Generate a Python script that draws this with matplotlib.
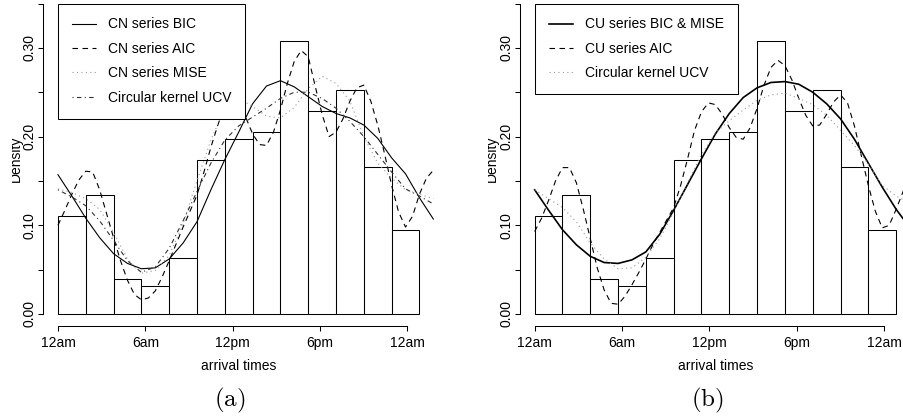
import numpy as np
import matplotlib
matplotlib.use('Agg')
import matplotlib.pyplot as plt
from matplotlib.transforms import Bbox, TransformedBbox

plt.rcParams['font.family'] = ['Liberation Sans', 'DejaVu Sans']
plt.rcParams['mathtext.fontset'] = 'cm'

#%% data (x in radians, 0..2pi = one day)
bin_left = np.arange(0.0, 6.01, 0.5)
hist_density = [0.111, 0.1345, 0.0395, 0.031, 0.063, 0.1736, 0.1973, 0.2052,
                0.3078, 0.2289, 0.2525, 0.1661, 0.095]

x_coarse = np.arange(0.0, 6.76, 0.25)
x_fine = np.arange(0.0, 6.76, 0.125)

# panel (a)
cn_bic = [0.157, 0.133, 0.108, 0.086, 0.068, 0.057, 0.051, 0.052, 0.062, 0.080,
          0.104, 0.140, 0.174, 0.205, 0.237, 0.257, 0.263, 0.256, 0.245, 0.234,
          0.226, 0.221, 0.213, 0.198, 0.176, 0.158, 0.131, 0.107]
cn_aic = [0.100, 0.117, 0.135, 0.151, 0.161, 0.160, 0.140, 0.113, 0.086, 0.060,
          0.038, 0.022, 0.016, 0.018, 0.026, 0.042, 0.060, 0.079, 0.098, 0.116,
          0.134, 0.160, 0.188, 0.213, 0.235, 0.245, 0.240, 0.222, 0.203, 0.191,
          0.190, 0.205, 0.230, 0.260, 0.285, 0.297, 0.290, 0.257, 0.225, 0.200,
          0.205, 0.220, 0.240, 0.255, 0.258, 0.240, 0.213, 0.180, 0.145, 0.115,
          0.098, 0.110, 0.135, 0.153, 0.162]
cn_mise = [0.141, 0.137, 0.130, 0.118, 0.092, 0.062, 0.046, 0.049, 0.066, 0.102,
           0.150, 0.196, 0.232, 0.243, 0.234, 0.223, 0.221, 0.233, 0.254, 0.268,
           0.260, 0.240, 0.200, 0.170, 0.153, 0.140, 0.135, 0.130]
ucv_a = [0.140, 0.132, 0.122, 0.105, 0.083, 0.060, 0.047, 0.053, 0.074, 0.105,
         0.138, 0.170, 0.196, 0.212, 0.222, 0.232, 0.243, 0.250, 0.250, 0.243,
         0.232, 0.217, 0.200, 0.180, 0.160, 0.141, 0.133, 0.124]

# panel (b)
cu_bic = [0.140, 0.117, 0.095, 0.078, 0.065, 0.058, 0.057, 0.061, 0.070, 0.090,
          0.117, 0.146, 0.175, 0.203, 0.226, 0.244, 0.255, 0.261, 0.262, 0.259,
          0.250, 0.237, 0.220, 0.197, 0.170, 0.143, 0.118, 0.097]
cu_aic = [0.093, 0.108, 0.128, 0.150, 0.165, 0.165, 0.148, 0.118, 0.085, 0.052,
          0.027, 0.012, 0.011, 0.020, 0.033, 0.047, 0.062, 0.078, 0.092, 0.106,
          0.120, 0.145, 0.175, 0.207, 0.228, 0.238, 0.236, 0.225, 0.210, 0.199,
          0.197, 0.210, 0.232, 0.258, 0.278, 0.286, 0.280, 0.264, 0.243, 0.224,
          0.212, 0.213, 0.225, 0.239, 0.247, 0.238, 0.212, 0.178, 0.145, 0.116,
          0.097, 0.100, 0.118, 0.138, 0.158]
ucv_b = [0.140, 0.130, 0.120, 0.104, 0.080, 0.062, 0.051, 0.052, 0.064, 0.085,
         0.115, 0.148, 0.180, 0.204, 0.218, 0.230, 0.241, 0.247, 0.249, 0.243,
         0.236, 0.224, 0.207, 0.190, 0.169, 0.145, 0.133, 0.125]

tick_pos = [0, np.pi / 2, np.pi, 3 * np.pi / 2, 2 * np.pi]
tick_lab = ['12am', '6am', '12pm', '6pm', '12am']

FS = 10
dashed = (0, (5, 4))
dotted = (0, (1, 3))
dashdot = (0, (1, 3, 4, 3))


def base_panel(ax):
    ax.bar(bin_left, hist_density, width=0.5, align='edge', facecolor='none',
           edgecolor='black', linewidth=0.75, zorder=1)
    ax.set_xlim(-0.26, 6.76)
    ax.set_ylim(-0.014, 0.364)
    for s in ['top', 'right']:
        ax.spines[s].set_visible(False)
    ax.spines['left'].set_bounds(0, 0.35)
    ax.spines['bottom'].set_bounds(0, 2 * np.pi)
    ax.spines['left'].set_linewidth(0.75)
    ax.spines['bottom'].set_linewidth(0.75)
    ax.set_xticks(tick_pos)
    ax.set_xticklabels(tick_lab)
    yt = np.arange(0, 0.351, 0.05)
    ax.set_yticks(yt)
    ax.set_yticklabels(['0.00', '', '0.10', '', '0.20', '', '0.30', ''])
    ax.tick_params(direction='out', length=3.6, width=0.75, labelsize=FS, pad=3.5)
    ax.tick_params(axis='y', labelrotation=90, pad=1.5)
    for lab in ax.get_yticklabels():
        lab.set_va('center')
    ax.set_xlabel('arrival times', fontsize=FS, labelpad=6)
    ax.set_ylabel('Density', fontsize=FS)
    ax.yaxis.set_label_coords(-0.054, 0.5)


def add_legend(ax):
    leg = ax.legend(loc='upper left', bbox_to_anchor=(0, 0.35), bbox_transform=ax.transData,
                    fontsize=FS, frameon=True, fancybox=False, edgecolor='black',
                    framealpha=1, borderaxespad=0, handlelength=1.75, handletextpad=0.85,
                    borderpad=1.0, labelspacing=0.75)
    leg.get_frame().set_linewidth(0.75)


fig = plt.figure(figsize=(9.04, 4.18), dpi=100)
W, H = 904.0, 418.0
ax1 = fig.add_axes([43.5 / W, (H - 326.4) / H, 390.4 / W, 335.3 / H])
ax2 = fig.add_axes([520.2 / W, (H - 326.4) / H, 390.4 / W, 335.3 / H])

# (a)
base_panel(ax1)
ax1.plot(x_coarse, cn_bic, color='black', lw=0.8, label='CN series BIC')
ax1.plot(x_fine, cn_aic, color='black', lw=0.8, ls=dashed, label='CN series AIC')
ax1.plot(x_coarse, cn_mise, color='#999999', lw=0.8, ls=dotted, label='CN series MISE')
ax1.plot(x_coarse, ucv_a, color='#333333', lw=0.8, ls=dashdot, label='Circular kernel UCV')
add_legend(ax1)

# (b)
base_panel(ax2)
ax2.plot(x_coarse, cu_bic, color='black', lw=1.2, label='CU series BIC & MISE')
ax2.plot(x_fine, cu_aic, color='black', lw=0.8, ls=dashed, label='CU series AIC')
ax2.plot(x_coarse, ucv_b, color='#999999', lw=0.8, ls=dotted, label='Circular kernel UCV')
add_legend(ax2)

# crop the top of the rotated "Density" labels like in the original
for ax, xc in [(ax1, 11.5), (ax2, 488.0)]:
    lab = ax.yaxis.label
    lab.set_clip_on(True)
    lab.set_clip_box(TransformedBbox(Bbox([[xc / W, 0], [1, 1]]), fig.transFigure))

fig.text(230 / W, 1 - 400 / H, r'$\mathrm{(a)}$', ha='center', va='center', fontsize=18)
fig.text(707 / W, 1 - 400 / H, r'$\mathrm{(b)}$', ha='center', va='center', fontsize=18)

fig.savefig('out.png', dpi=100)
